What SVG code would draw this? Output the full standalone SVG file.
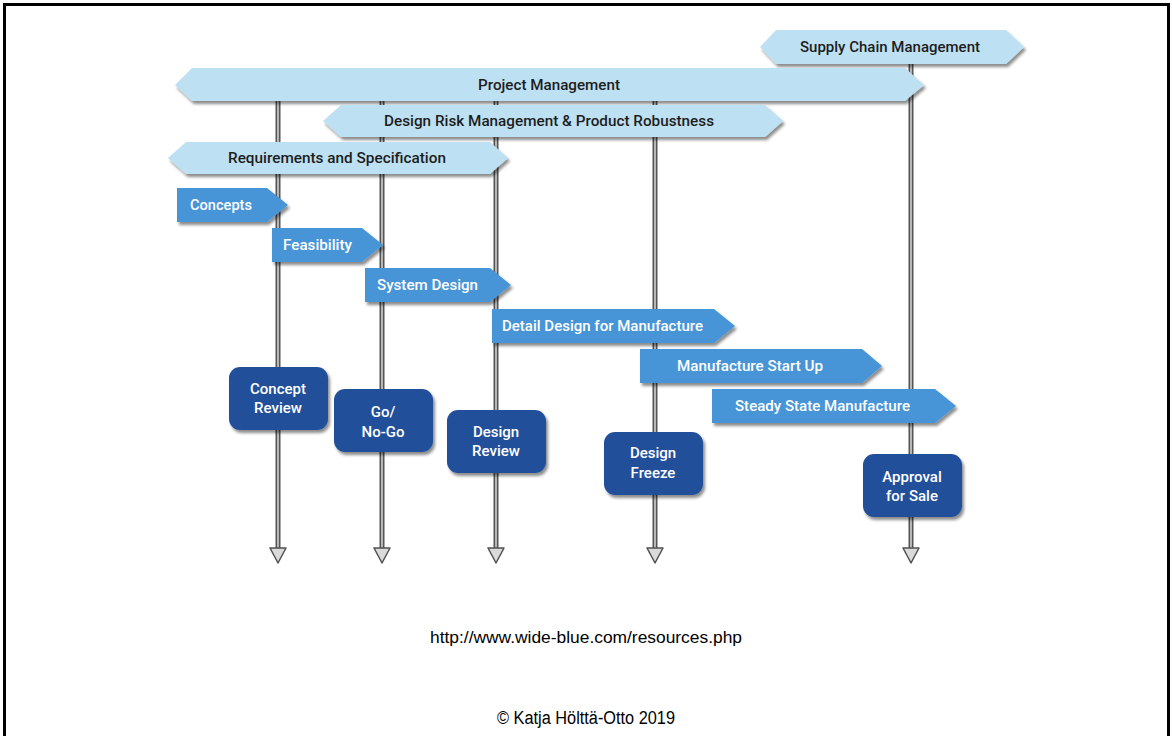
<svg xmlns="http://www.w3.org/2000/svg" width="1172" height="736" viewBox="0 0 1172 736">
<defs>
<filter id="sh" x="-10%" y="-30%" width="120%" height="180%">
<feDropShadow dx="2" dy="3" stdDeviation="1.8" flood-color="#000" flood-opacity="0.45"/>
</filter>
<style>
.banner{fill:#bde1f3;filter:url(#sh)}
.phase{fill:#4694d7;filter:url(#sh)}
.gate{fill:#22509a;filter:url(#sh)}
.bt{font-family:Roboto,"Liberation Sans",sans-serif;font-weight:500;font-size:14px;fill:#1d1d1d}
.pt{font-family:Roboto,"Liberation Sans",sans-serif;font-weight:500;font-size:14px;fill:#fff}
.gt{font-family:Roboto,"Liberation Sans",sans-serif;font-weight:500;font-size:15px;fill:#fff;text-anchor:middle}
.ft{font-family:"Liberation Sans",Arial,sans-serif;fill:#000;text-anchor:middle}
.lo{stroke:#555;stroke-width:5;fill:none}
.li{stroke:#d0d0d0;stroke-width:1.6;fill:none}
.ah{fill:#dadada;stroke:#505050;stroke-width:1.5;stroke-linejoin:round}
</style>
</defs>
<rect width="1172" height="736" fill="#fff"/>
<path d="M4.5 740 V4.5 H1168.5 V740" fill="none" stroke="#000" stroke-width="3"/>

<g id="connectors">
<line class="lo" x1="278" y1="85" x2="278" y2="549"/><line class="li" x1="278" y1="85" x2="278" y2="549"/>
<line class="lo" x1="382" y1="85" x2="382" y2="549"/><line class="li" x1="382" y1="85" x2="382" y2="549"/>
<line class="lo" x1="496" y1="85" x2="496" y2="549"/><line class="li" x1="496" y1="85" x2="496" y2="549"/>
<line class="lo" x1="655" y1="85" x2="655" y2="549"/><line class="li" x1="655" y1="85" x2="655" y2="549"/>
<line class="lo" x1="911" y1="47" x2="911" y2="549"/><line class="li" x1="911" y1="47" x2="911" y2="549"/>
<polygon class="ah" points="270,548 286,548 278,563"/>
<polygon class="ah" points="374,548 390,548 382,563"/>
<polygon class="ah" points="488,548 504,548 496,563"/>
<polygon class="ah" points="647,548 663,548 655,563"/>
<polygon class="ah" points="903,548 919,548 911,563"/>
</g>

<g id="supply-chain">
<polygon class="banner" points="760,47 776,30 1006,30 1024,47 1006,64 776,64"/>
<text class="bt" x="800" y="52" textLength="180" lengthAdjust="spacingAndGlyphs">Supply Chain Management</text>
</g>
<g id="project-management">
<polygon class="banner" points="175,85 192,68 905,68 924,85 905,101 192,101"/>
<text class="bt" x="478" y="90" textLength="142" lengthAdjust="spacingAndGlyphs">Project Management</text>
</g>
<g id="design-risk">
<polygon class="banner" points="323,121 341,105 765,105 783,121 765,137 341,137"/>
<text class="bt" x="384" y="126" textLength="330" lengthAdjust="spacingAndGlyphs">Design Risk Management &amp; Product Robustness</text>
</g>
<g id="requirements">
<polygon class="banner" points="168,158 186,142 490,142 508,158 490,174 186,174"/>
<text class="bt" x="228" y="163" textLength="218" lengthAdjust="spacingAndGlyphs">Requirements and Specification</text>
</g>

<g id="concepts">
<polygon class="phase" points="177,188 267,188 288,205 267,222 177,222"/>
<text class="pt" x="190" y="210" textLength="62" lengthAdjust="spacingAndGlyphs">Concepts</text>
</g>
<g id="feasibility">
<polygon class="phase" points="272,228 362,228 383,245 362,262 272,262"/>
<text class="pt" x="283" y="250" textLength="69" lengthAdjust="spacingAndGlyphs">Feasibility</text>
</g>
<g id="system-design">
<polygon class="phase" points="365,268 490,268 511,285 490,302 365,302"/>
<text class="pt" x="377" y="290" textLength="101" lengthAdjust="spacingAndGlyphs">System Design</text>
</g>
<g id="detail-design">
<polygon class="phase" points="492,309 714,309 735,326 714,343 492,343"/>
<text class="pt" x="502" y="331" textLength="201" lengthAdjust="spacingAndGlyphs">Detail Design for Manufacture</text>
</g>
<g id="manufacture-start-up">
<polygon class="phase" points="640,349 862,349 882,366 862,383 640,383"/>
<text class="pt" x="677" y="371" textLength="146" lengthAdjust="spacingAndGlyphs">Manufacture Start Up</text>
</g>
<g id="steady-state">
<polygon class="phase" points="712,389 935,389 956,406 935,423 712,423"/>
<text class="pt" x="735" y="411" textLength="175" lengthAdjust="spacingAndGlyphs">Steady State Manufacture</text>
</g>

<g id="concept-review">
<rect class="gate" x="229" y="367" width="99" height="63" rx="11"/>
<text class="gt" x="278" y="394">Concept</text>
<text class="gt" x="278" y="413">Review</text>
</g>
<g id="go-no-go">
<rect class="gate" x="334" y="389" width="99" height="63" rx="11"/>
<text class="gt" x="383" y="417">Go/</text>
<text class="gt" x="383" y="437">No-Go</text>
</g>
<g id="design-review">
<rect class="gate" x="447" y="410" width="99" height="63" rx="11"/>
<text class="gt" x="496" y="437">Design</text>
<text class="gt" x="496" y="456">Review</text>
</g>
<g id="design-freeze">
<rect class="gate" x="604" y="432" width="99" height="63" rx="11"/>
<text class="gt" x="653" y="458">Design</text>
<text class="gt" x="653" y="478">Freeze</text>
</g>
<g id="approval-for-sale">
<rect class="gate" x="863" y="454" width="99" height="63" rx="11"/>
<text class="gt" x="912" y="482">Approval</text>
<text class="gt" x="912" y="501">for Sale</text>
</g>

<text class="ft" x="586" y="643" font-size="16" textLength="312" lengthAdjust="spacingAndGlyphs">http://www.wide-blue.com/resources.php</text>
<text class="ft" x="586" y="724" font-size="18" textLength="178" lengthAdjust="spacingAndGlyphs">© Katja Hölttä-Otto 2019</text>
</svg>
